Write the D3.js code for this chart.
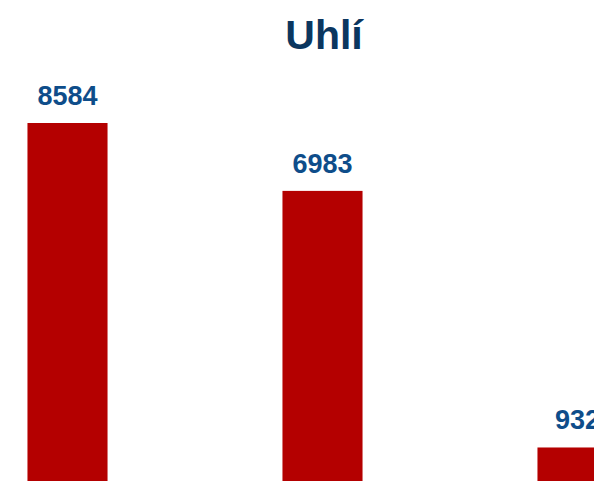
<!DOCTYPE html>
<html>
<head>
<meta charset="utf-8">
<script src="https://cdn.jsdelivr.net/npm/d3@7"></script>
<style>
  body { margin: 0; background: #fff; overflow: hidden; }
  svg { display: block; font-family: "Liberation Sans", Arial, sans-serif; }
</style>
</head>
<body>
<div id="chart"></div>
<script>
var categories = ["A", "B", "C"];
var values = [8584, 6983, 932];
var title = "Uhlí";

var fullwidth = 594, fullheight = 481;

var svg = d3.select("#chart").append("svg")
    .attr("width", fullwidth)
    .attr("height", fullheight);

// the chart is wider/taller than the window, so part of it is cut off
var step = 255;
var xScale = d3.scaleBand()
    .domain(categories)
    .range([-60, -60 + step * categories.length])
    .paddingInner(0.686)
    .paddingOuter(0.343);

var yScale = d3.scaleLinear()
    .domain([0, d3.max(values)])
    .range([487, 123]);

svg.append("text")
    .attr("x", 324)
    .attr("y", 49)
    .attr("text-anchor", "middle")
    .attr("font-size", "41px")
    .attr("font-weight", "bold")
    .attr("fill", "#0b365f")
    .text(title);

svg.selectAll("rect.bar")
    .data(values)
    .enter()
    .append("rect")
    .attr("class", "bar")
    .attr("x", function(d, i) { return xScale(categories[i]); })
    .attr("y", function(d) { return yScale(d); })
    .attr("width", xScale.bandwidth())
    .attr("height", function(d) { return yScale(0) - yScale(d); })
    .attr("fill", "#b40000");

svg.selectAll("text.labels")
    .data(values)
    .enter()
    .append("text")
    .attr("class", "labels")
    .attr("x", function(d, i) { return xScale(categories[i]) + xScale.bandwidth() / 2; })
    .attr("y", function(d) { return yScale(d) - 18; })
    .attr("text-anchor", "middle")
    .attr("font-size", "27px")
    .attr("font-weight", "bold")
    .attr("fill", "#0e4d8a")
    .text(function(d) { return d; });
</script>
</body>
</html>
